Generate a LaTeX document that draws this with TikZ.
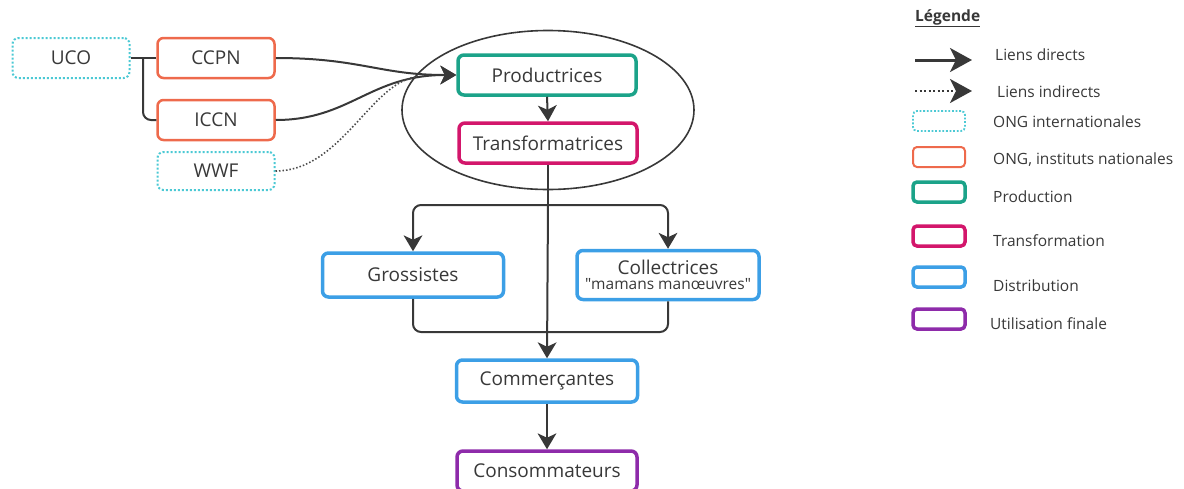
\documentclass[tikz,border=0pt]{standalone}
\usepackage{fontspec}
\setmainfont{Open Sans}
\usetikzlibrary{arrows.meta,shapes.geometric}
\definecolor{txt}{HTML}{383838}
\definecolor{cyanb}{HTML}{4CC9D4}
\definecolor{orangeb}{HTML}{EE6A4C}
\definecolor{greenb}{HTML}{1BA389}
\definecolor{magb}{HTML}{D3166B}
\definecolor{blueb}{HTML}{3C9FE6}
\definecolor{purpb}{HTML}{8E2BAA}
\newcommand\dquote{\XeTeXglyph\XeTeXcharglyph"0022\relax}
\tikzset{
  base/.style={rounded corners=6pt, minimum height=40pt, inner sep=0pt, text=txt, font=\fontsize{19}{21}\selectfont, align=center},
  intl/.style={base, draw=cyanb, line width=2pt, dash pattern=on 2pt off 2pt, minimum width=117pt},
  natl/.style={base, draw=orangeb, line width=2.5pt, minimum width=117pt},
  prod/.style={base, draw=greenb, line width=3.5pt, minimum width=178pt},
  trans/.style={base, draw=magb, line width=3.5pt, minimum width=178pt},
  distr/.style={base, draw=blueb, line width=3.5pt, minimum width=180pt},
  fin/.style={base, draw=purpb, line width=3.5pt, minimum width=180pt},
  conn/.style={draw=txt, line width=2pt, rounded corners=8pt},
  tip/.tip={Stealth[length=16pt,width=19pt,inset=4.5pt,line width=0pt, sharp]},
  arr/.style={conn, -tip},
  ltip/.tip={Stealth[length=22pt,width=24pt,inset=6pt, sharp]},
  larr/.style={draw=txt, line width=3pt, -ltip},
  ldarr/.style={draw=txt, line width=2.4pt, dash pattern=on 2pt off 2.5pt, -ltip},
  dotl/.style={draw=txt!90, line width=1.6pt, dash pattern=on 1.5pt off 2pt},
  leg/.style={minimum width=52pt, minimum height=20pt, inner sep=0pt, rounded corners=4pt},
  legt/.style={anchor=west, text=txt, font=\fontsize{15.5}{17}\selectfont, inner sep=0pt},
}
\begin{document}
\begin{tikzpicture}[x=1pt,y=-1pt]
\useasboundingbox (0,0) rectangle (1184,488);
% ellipse
\node[draw=txt, line width=1.6pt, ellipse, minimum width=292pt, minimum height=159pt, inner sep=0pt] (ell) at (548,110) {};
% nodes
\node[intl] (uco) at (71,58) {UCO};
\node[natl] (ccpn) at (216,58) {CCPN};
\node[natl] (iccn) at (216,120) {ICCN};
\node[intl, minimum height=38pt] (wwf) at (216,171) {WWF};
\node[prod] (prod) at (547,75) {Productrices};
\node[trans] (trans) at (548,143) {Transformatrices};
\node[distr, minimum width=181pt, minimum height=44pt] (gros) at (413,275) {Grossistes};
\node[distr, minimum width=182pt, minimum height=49pt] (coll) at (668,275) {Collectrices\\[-6pt]{\fontsize{15.5}{16}\selectfont \dquote mamans manœuvres\dquote}};
\node[distr, minimum width=181pt, minimum height=42pt] (comm) at (547,381) {Commerçantes};
\node[fin] (cons) at (547,471) {Consommateurs};
% coordinates
\coordinate (split) at (548,205);
\coordinate (merge) at (547,332);
\coordinate (jn) at (143,58);
% connectors
\draw[conn] (uco.east) -- (ccpn.west);
\draw[conn] (jn) |- (iccn.west);
\draw[arr] (ccpn.east) .. controls (360,58) and (380,75) .. (prod.west);
\draw[arr] (iccn.east) .. controls (350,120) and (370,75) .. (prod.west);
\draw[dotl] (wwf.east) .. controls (340,171) and (370,85) .. (415,77);
\draw[arr] (prod.south) -- (trans.north);
\draw[conn] (trans.south) -- (split);
\draw[arr] (split) -| (gros.north);
\draw[arr] (split) -| (coll.north);
\draw[arr] (split) -- (comm.north);
\draw[conn] (gros.south) |- (merge);
\draw[conn] (coll.south) |- (merge);
\draw[arr] (comm.south) -- (cons.north);
% legend
\node[anchor=west, text=txt, font=\fontsize{15.5}{17}\selectfont\bfseries, inner sep=0pt] (lt) at (915,18) {\underline{Légende}};
\coordinate (a1s) at (915,60); \coordinate (a1e) at (972,60);
\draw[larr] (a1s) -- (a1e);
\node[legt] (t1) at (995,55) {Liens directs};
\coordinate (a2s) at (915,91); \coordinate (a2e) at (972,91);
\draw[ldarr] (a2s) -- (a2e);
\node[legt] (t2) at (997,92) {Liens indirects};
\node[leg, draw=cyanb, line width=1.8pt, dash pattern=on 1.8pt off 1.8pt] (l3) at (939,121) {};
\node[legt] (t3) at (993,122) {ONG internationales};
\node[leg, draw=orangeb, line width=2pt] (l4) at (939,157) {};
\node[legt] (t4) at (993,160) {ONG, instituts nationales};
\node[leg, draw=greenb, line width=3.5pt] (l5) at (939,192) {};
\node[legt] (t5) at (993,197) {Production};
\node[leg, draw=magb, line width=3.5pt] (l6) at (939,236) {};
\node[legt] (t6) at (993,241) {Transformation};
\node[leg, draw=blueb, line width=3.5pt] (l7) at (939,277) {};
\node[legt] (t7) at (993,286) {Distribution};
\node[leg, draw=purpb, line width=3.5pt] (l8) at (939,319) {};
\node[legt] (t8) at (990,324) {Utilisation finale};
\end{tikzpicture}
\end{document}
